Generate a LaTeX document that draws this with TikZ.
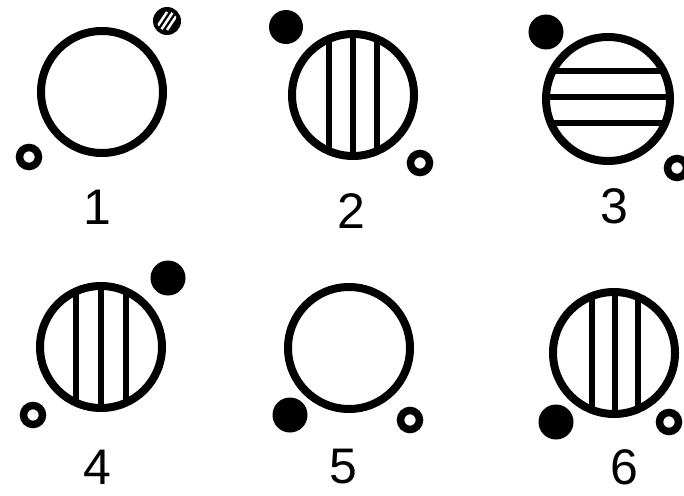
\documentclass[tikz,border=0pt]{standalone}
\usepackage{fontspec}
\setmainfont{Liberation Sans}
\tikzset{
  bigring/.style={draw, line width=8pt},
  barline/.style={line width=5.5pt},
  fulldot/.style={fill=black},
  opendot/.style={draw, line width=7.5pt},
  stripe/.style={white, line width=2.5pt},
  numlabel/.style={font=\fontsize{50}{60}\selectfont, inner sep=0pt}
}
\begin{document}
\begin{tikzpicture}[x=1pt,y=-1pt]
  \useasboundingbox (0,0) rectangle (684,495);
  % figure 1
  \coordinate (c1) at (102,92);
  \coordinate (s1) at (167,21);
  \draw[bigring] (c1) circle (61);
  \fill[fulldot] (s1) circle (14);
  \begin{scope}
    \clip (s1) circle (10);
    \foreach \d in {-6,0,6}
      \draw[stripe] (161+\d,30) -- ++(12,-18);
  \end{scope}
  \draw[opendot] (29,157) circle (9.5);
  \node[numlabel] (lab1) at (97,207) {1};
  % figure 2
  \coordinate (c2) at (353,95);
  \begin{scope}
    \clip (c2) circle (61);
    \foreach \x in {-24,0,24}
      \draw[barline] (353+\x,20) -- (353+\x,170);
  \end{scope}
  \draw[bigring] (c2) circle (61);
  \fill[fulldot] (286,27) circle (17);
  \draw[opendot] (420,163) circle (9.5);
  \node[numlabel] (lab2) at (351,211) {2};
  % figure 3
  \coordinate (c3) at (608,99);
  \begin{scope}
    \clip (c3) circle (62);
    \foreach \y in {-26,0,26}
      \draw[barline] (530,97+\y) -- (690,97+\y);
  \end{scope}
  \draw[bigring] (c3) circle (62);
  \fill[fulldot] (546,32) circle (17.5);
  \draw[opendot] (677,168) circle (9.5);
  \node[numlabel] (lab3) at (614,206) {3};
  % figure 4
  \coordinate (c4) at (101,347);
  \begin{scope}
    \clip (c4) circle (61);
    \foreach \x in {-25,0,25}
      \draw[barline] (101+\x,270) -- (101+\x,420);
  \end{scope}
  \draw[bigring] (c4) circle (61);
  \fill[fulldot] (168,278) circle (17.5);
  \draw[opendot] (33,415) circle (9.5);
  \node[numlabel] (lab4) at (97,467) {4};
  % figure 5
  \coordinate (c5) at (349,348);
  \draw[bigring] (c5) circle (61);
  \fill[fulldot] (290,415) circle (17.5);
  \draw[opendot] (410,420) circle (9.5);
  \node[numlabel] (lab5) at (343,467) {5};
  % figure 6
  \coordinate (c6) at (614,353);
  \begin{scope}
    \clip (c6) circle (61);
    \foreach \x in {-23,0,23}
      \draw[barline] (615+\x,270) -- (615+\x,430);
  \end{scope}
  \draw[bigring] (c6) circle (61);
  \fill[fulldot] (556,422) circle (17.5);
  \draw[opendot] (669,422) circle (9.5);
  \node[numlabel] (lab6) at (624,467) {6};
\end{tikzpicture}
\end{document}
